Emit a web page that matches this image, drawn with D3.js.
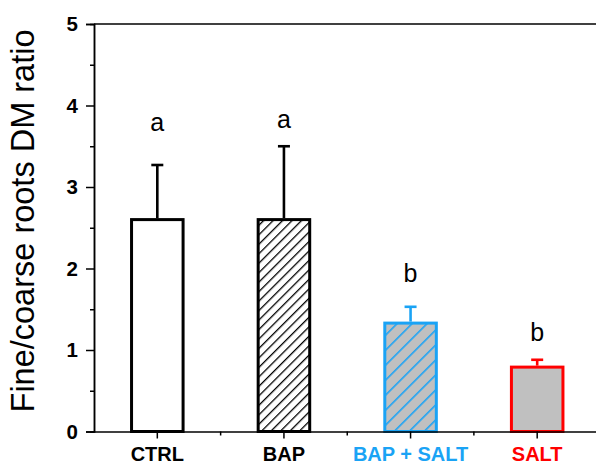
<!DOCTYPE html>
<html>
<head>
<meta charset="utf-8">
<script src="https://cdn.jsdelivr.net/npm/d3@7/dist/d3.min.js"></script>
<style>
  html, body { margin: 0; padding: 0; background: #fff; }
  svg { display: block; font-family: Arial, "Liberation Sans", sans-serif; }
</style>
</head>
<body>
<svg id="chart" width="596" height="465"></svg>
<script>
// Treatments and measured fine/coarse root dry-mass ratios
const categories = ["CTRL", "BAP", "BAP + SALT", "SALT"];
const means = [2.60, 2.60, 1.33, 0.79];
const errors = [0.67, 0.90, 0.20, 0.09];
// Significance letters and the height (in ratio units) at which each is written
const letters = ["a", "a", "b", "b"];
const letterHeights = [3.69, 3.73, 1.84, 1.11];
const yTicks = [0, 1, 2, 3, 4, 5];

// Per-treatment appearance
const fills = ["#ffffff", "url(#hatchBlack)", "url(#hatchBlue)", "#c0c0c0"];
const strokes = ["#000000", "#000000", "#1aa3f5", "#ff0000"];
const labelColors = ["#000000", "#000000", "#1aa3f5", "#ff0000"];

const svg = d3.select("#chart");
const plotLeft = 94, plotRight = 600.5, plotTop = 24, plotBottom = 431.5;

const x = d3.scaleBand()
  .domain(categories)
  .range([plotLeft, plotRight])
  .paddingInner(0.593)
  .paddingOuter(0.593 / 2);

const y = d3.scaleLinear().domain([0, 5]).range([plotBottom, plotTop]);

// Hatch patterns
const defs = svg.append("defs");
const pBlack = defs.append("pattern")
  .attr("id", "hatchBlack")
  .attr("patternUnits", "userSpaceOnUse")
  .attr("width", 6.7).attr("height", 6.7)
  .attr("patternTransform", "rotate(45)");
pBlack.append("rect").attr("width", 6.7).attr("height", 6.7).attr("fill", "#fff");
pBlack.append("line").attr("x1", 0).attr("y1", 0).attr("x2", 0).attr("y2", 6.7)
  .attr("stroke", "#000").attr("stroke-width", 2.6);

const pBlue = defs.append("pattern")
  .attr("id", "hatchBlue")
  .attr("patternUnits", "userSpaceOnUse")
  .attr("width", 10.6).attr("height", 10.6)
  .attr("patternTransform", "rotate(45)");
pBlue.append("rect").attr("width", 10.6).attr("height", 10.6).attr("fill", "#c0c0c0");
pBlue.append("line").attr("x1", 0).attr("y1", 0).attr("x2", 0).attr("y2", 10.6)
  .attr("stroke", "#1aa3f5").attr("stroke-width", 3.2);

// Bars
const bars = svg.append("g");
bars.selectAll("rect")
  .data(categories)
  .join("rect")
  .attr("x", d => x(d))
  .attr("width", x.bandwidth())
  .attr("y", (d, i) => y(means[i]))
  .attr("height", (d, i) => y(0) - y(means[i]))
  .attr("fill", (d, i) => fills[i])
  .attr("stroke", (d, i) => strokes[i])
  .attr("stroke-width", 3);

// Error bars (upper only)
const eb = svg.append("g");
categories.forEach((c, i) => {
  const cx = x(c) + x.bandwidth() / 2;
  eb.append("line")
    .attr("x1", cx).attr("x2", cx)
    .attr("y1", y(means[i]) - 1.5).attr("y2", y(means[i] + errors[i]))
    .attr("stroke", strokes[i]).attr("stroke-width", 2.6);
  eb.append("line")
    .attr("x1", cx - 6).attr("x2", cx + 6)
    .attr("y1", y(means[i] + errors[i])).attr("y2", y(means[i] + errors[i]))
    .attr("stroke", strokes[i]).attr("stroke-width", 2.6);
});

// Significance letters
svg.append("g").selectAll("text")
  .data(categories)
  .join("text")
  .attr("x", d => x(d) + x.bandwidth() / 2)
  .attr("y", (d, i) => y(letterHeights[i]))
  .attr("text-anchor", "middle")
  .attr("font-size", 25)
  .attr("fill", "#000")
  .text((d, i) => letters[i]);

// Y axis: labelled major ticks and minor half-unit ticks
const yAxis = svg.append("g").attr("transform", `translate(${plotLeft},0)`)
  .call(d3.axisLeft(y).tickValues(yTicks).tickFormat(d3.format("d")).tickSize(8).tickPadding(8));
yAxis.selectAll("text").attr("font-size", 20.5).attr("font-weight", "bold")
  .attr("font-family", "Arial, 'Liberation Sans', sans-serif").attr("fill", "#000");
const yMinor = svg.append("g").attr("transform", `translate(${plotLeft},0)`)
  .call(d3.axisLeft(y).tickValues(d3.range(0.5, 5, 1)).tickFormat("").tickSize(4));
[yAxis, yMinor].forEach(g => {
  g.selectAll("line").attr("stroke", "#000").attr("stroke-width", 1.5);
  g.select(".domain").attr("stroke", "#000").attr("stroke-width", 1.5);
});

// X axis: labelled ticks at bar centres, minor ticks between groups
const xAxis = svg.append("g").attr("transform", `translate(0,${plotBottom})`)
  .call(d3.axisBottom(x).tickSize(7).tickPadding(8.5).tickSizeOuter(0));
xAxis.selectAll("text")
  .attr("font-size", 20).attr("font-weight", "bold")
  .attr("font-family", "Arial, 'Liberation Sans', sans-serif")
  .attr("fill", (d, i) => labelColors[i]);
const edges = categories.slice(1).map(c => x(c) - x.step() * x.paddingInner() / 2);
const xMinor = svg.append("g").attr("transform", `translate(0,${plotBottom})`);
xMinor.selectAll("line").data(edges).join("line")
  .attr("x1", d => d).attr("x2", d => d).attr("y1", 0).attr("y2", 4)
  .attr("stroke", "#000").attr("stroke-width", 1.5);
xAxis.selectAll("line").attr("stroke", "#000").attr("stroke-width", 1.5);
xAxis.select(".domain").attr("stroke", "#000").attr("stroke-width", 1.5);

// Top frame line
svg.append("line")
  .attr("x1", plotLeft).attr("x2", plotRight).attr("y1", plotTop).attr("y2", plotTop)
  .attr("stroke", "#000").attr("stroke-width", 1.5);

// Y axis title
svg.append("text")
  .attr("transform", `translate(34,221) rotate(-90)`)
  .attr("text-anchor", "middle")
  .attr("font-size", 32.5)
  .attr("fill", "#000")
  .text("Fine/coarse roots DM ratio");
</script>
</body>
</html>
